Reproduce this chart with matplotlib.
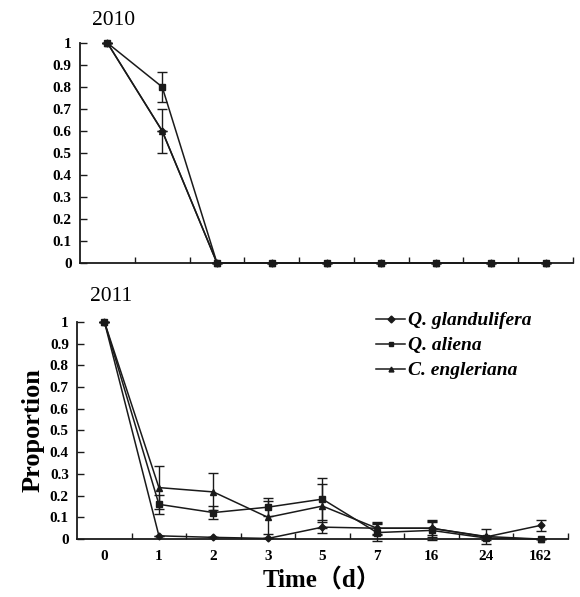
import matplotlib.pyplot as plt
from matplotlib.lines import Line2D
from matplotlib.ticker import FixedLocator, FuncFormatter

# time points (categorical positions)
days_2010 = ['0', '1', '2', '3', '5', '7', '16', '24', '162']
days_2011 = ['0', '1', '2', '3', '5', '7', '16', '24', '162']

species = ['Q. glandulifera', 'Q. aliena', 'C. engleriana']
markers = ['D', 's', '^']
msizes = [3.5, 5, 5]

# 2010 proportions and errors
y2010_glan = [1, 0.60, 0, 0, 0, 0, 0, 0, 0]
y2010_ali = [1, 0.80, 0, 0, 0, 0, 0, 0, 0]
y2010_eng = [1, 0.60, 0, 0, 0, 0, 0, 0, 0]
e2010_glan = [0, 0, 0, 0, 0, 0, 0, 0, 0]
e2010_ali = [0, 0.07, 0, 0, 0, 0, 0, 0, 0]
e2010_eng = [0, 0.10, 0, 0, 0, 0, 0, 0, 0]

# 2011 proportions and errors
y2011_glan = [1, 0.015, 0.008, 0.003, 0.055, 0.05, 0.05, 0.01, 0.063]
y2011_ali = [1, 0.16, 0.122, 0.147, 0.184, 0.03, 0.04, 0.005, 0.0]
y2011_eng = [1, 0.237, 0.217, 0.10, 0.152, 0.05, 0.05, 0.012, 0.0]
e2011_glan = [0, 0, 0, 0, 0.025, 0.025, 0.03, 0, 0.027]
e2011_ali = [0, 0.045, 0.03, 0.04, 0.095, 0.04, 0.045, 0.01, 0]
e2011_eng = [0, 0.10, 0.085, 0.075, 0.10, 0.03, 0.04, 0.035, 0]

plt.rcParams['font.family'] = ['Liberation Serif', 'Noto Sans CJK SC']
col = '#1a1a1a'

fig = plt.figure(figsize=(5.8, 5.97), dpi=100)
ax1 = fig.add_axes([0.138, 0.5595, 0.850, 0.3685])
ax2 = fig.add_axes([0.133, 0.097, 0.846, 0.364])


def draw(ax, labels, ys, es, show_xlabels):
    x = list(range(len(labels)))
    for y, e, m, ms in zip(ys, es, markers, msizes):
        ax.errorbar(x, y, yerr=e, marker=m, ms=ms, color=col, lw=1.1,
                    elinewidth=1.0, capsize=3.5, capthick=1.0,
                    clip_on=False, zorder=3)
    ax.set_xlim(-0.5, len(labels) - 0.5)
    ax.set_ylim(0, 1)
    ax.spines['top'].set_visible(False)
    ax.spines['right'].set_visible(False)
    for s in ['left', 'bottom']:
        ax.spines[s].set_linewidth(1.3)
        ax.spines[s].set_color(col)
    ax.set_yticks([i / 10 for i in range(11)])
    ax.yaxis.set_major_formatter(FuncFormatter(
        lambda v, p: '%d' % v if v in (0, 1) else '%.1f' % v))
    # ticks sit between categories
    ax.xaxis.set_major_locator(FixedLocator([i + 0.5 for i in x]))
    ax.xaxis.set_minor_locator(FixedLocator(x))
    ax.tick_params(axis='x', which='major', direction='in', length=4,
                   width=1, labelbottom=False, color=col)
    ax.tick_params(axis='x', which='minor', length=0, pad=8,
                   labelbottom=show_xlabels)
    if show_xlabels:
        ax.set_xticklabels(labels, minor=True, fontweight='bold', fontsize=11)
    ax.tick_params(axis='y', direction='in', length=5, width=1, pad=6,
                   labelsize=11, color=col)
    for t in ax.get_yticklabels():
        t.set_fontweight('bold')


draw(ax1, days_2010, [y2010_glan, y2010_ali, y2010_eng],
     [e2010_glan, e2010_ali, e2010_eng], False)
draw(ax2, days_2011, [y2011_glan, y2011_ali, y2011_eng],
     [e2011_glan, e2011_ali, e2011_eng], True)

fig.text(0.195, 0.965, '2010', ha='center', va='center', fontsize=15.5)
fig.text(0.191, 0.503, '2011', ha='center', va='center', fontsize=15.5)

ax2.set_ylabel('Proportion', fontsize=19, fontweight='bold', labelpad=4)
ax2.set_xlabel('Time（d）', fontsize=18, fontweight='bold', labelpad=4)

handles = [Line2D([], [], color=col, lw=1.1, marker=m, ms=3.5)
           for m in markers]
fig.legend(handles, species, loc='upper left',
           bbox_to_anchor=(0.632, 0.494), frameon=False, borderpad=0,
           handlelength=1.5, handletextpad=0.15, labelspacing=0.38,
           prop={'size': 14, 'style': 'italic', 'weight': 'bold',
                 'family': 'Liberation Serif'})

fig.savefig('out.png', dpi=100)
